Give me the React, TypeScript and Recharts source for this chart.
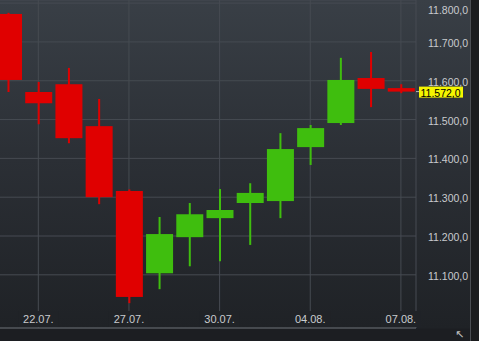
import React from 'react';
import { Bar, CartesianGrid, ComposedChart, ReferenceLine, XAxis, YAxis } from 'recharts';

const dates = ['21.07.', '22.07.', '23.07.', '24.07.', '27.07.', '28.07.', '29.07.', '30.07.', '31.07.', '03.08.', '04.08.', '05.08.', '06.08.', '07.08.'];
const opens = [11772, 11571, 11591, 11483, 11316, 11104, 11197, 11246, 11285, 11290, 11429, 11491, 11607, 11581];
const highs = [11775, 11597, 11633, 11553, 11320, 11249, 11285, 11321, 11336, 11465, 11486, 11659, 11674, 11591];
const lows = [11571, 11488, 11439, 11282, 11027, 11063, 11122, 11135, 11177, 11246, 11383, 11486, 11532, 11568];
const closes = [11602, 11542, 11452, 11300, 11043, 11205, 11256, 11267, 11311, 11424, 11478, 11602, 11579, 11572];

const dateTicks = ['22.07.', '27.07.', '30.07.', '04.08.', '07.08.'];
const priceTicks = [11100, 11200, 11300, 11400, 11500, 11600, 11700, 11800];
const lastPrice = 11572;

const UP = '#3fbe0e';
const DOWN = '#e00000';
const TEXT = '#c9cbce';
const FONT = '"Liberation Sans", Arial, sans-serif';

const data = dates.map((d, i) => ({
    date: d,
    open: opens[i],
    high: highs[i],
    low: lows[i],
    close: closes[i],
    range: [lows[i], highs[i]],
}));

// 11572 -> "11.572,0"
const fmt = (v: number) => {
    const [int, dec] = v.toFixed(1).split('.');
    return int.replace(/\B(?=(\d{3})+(?!\d))/g, '.') + ',' + dec;
};

const Candle = (props: any) => {
    const { x, y, width, height, payload } = props;
    const { open, close, high, low } = payload;
    const ratio = height / (high - low || 1);
    const py = (v: number) => y + (high - v) * ratio;
    const color = close >= open ? UP : DOWN;
    const top = py(Math.max(open, close));
    const bottom = py(Math.min(open, close));
    const cx = x + width / 2;
    return (
        <g>
            <rect x={cx - 1} y={y} width={2} height={height} fill={color} />
            <rect x={x} y={top} width={width} height={Math.max(bottom - top, 2)} fill={color} />
        </g>
    );
};

const YTick = ({ x, y, payload }: any) => (
    <text x={x + 12} y={y + 1} fill={TEXT} fontSize={10.5} fontFamily={FONT} dominantBaseline="central" textAnchor="start">
        {fmt(payload.value)}
    </text>
);

const XTick = ({ x, y, payload }: any) => (
    <g>
        <rect x={x - 20} y={y - 19} width={40} height={16} fill="#202327" />
        <text x={x} y={y - 11} fill={TEXT} fontSize={11} fontFamily={FONT} dominantBaseline="central" textAnchor="middle">
            {payload.value}
        </text>
    </g>
);

const PriceTag = ({ viewBox }: any) => {
    if (!viewBox) return null;
    const x = viewBox.x + viewBox.width;
    const y = viewBox.y;
    return (
        <g>
            <rect x={x} y={y - 0.5} width={3} height={1} fill="#bbbbbb" />
            <rect x={x + 3} y={y - 5} width={44} height={11} fill="#f5f500" />
            <text x={x + 4.5} y={y + 1} fill="#000" fontSize={10.5} fontFamily={FONT} dominantBaseline="central">
                {fmt(lastPrice)}
            </text>
        </g>
    );
};

export default function App() {
    return (
        <div style={{ position: 'absolute', left: 0, top: 0, width: 479, height: 341, background: '#1a1b1d', overflow: 'hidden' }}>
            <div
                style={{
                    position: 'absolute', left: 0, top: 0, width: 470, height: 341, overflow: 'hidden',
                    background: 'linear-gradient(#393f46 0px, #2b2f35 160px, #1f2226 328px, #1c1e22 329px, #1c1e22 341px)',
                    borderRight: '1px solid #4a4d52',
                }}
            >
                <div style={{ position: 'absolute', left: -7, top: 0 }}>
                    <ComposedChart width={477} height={341} data={data} margin={{ top: 0, right: 0, left: 0, bottom: 0 }}>
                        <CartesianGrid stroke="#464b52" strokeWidth={1} />
                        <XAxis
                            dataKey="date"
                            ticks={dateTicks}
                            interval={0}
                            height={13}
                            tickLine={false}
                            tickSize={0}
                            axisLine={{ stroke: '#5a5e63' }}
                            tick={<XTick />}
                        />
                        <YAxis
                            orientation="right"
                            width={54}
                            domain={[10963, 11808]}
                            allowDataOverflow
                            ticks={priceTicks}
                            tickSize={0}
                            tickMargin={0}
                            tickLine={false}
                            axisLine={false}
                            tick={<YTick />}
                        />
                        <Bar dataKey="range" barSize={27} shape={<Candle />} isAnimationActive={false} />
                        <ReferenceLine y={lastPrice} stroke="none" strokeOpacity={0} ifOverflow="visible" label={<PriceTag />} />
                    </ComposedChart>
                </div>
            </div>
            <div style={{ position: 'absolute', left: 455, top: 329, fontSize: 11, color: '#c0c0c0', fontFamily: '"DejaVu Sans"', lineHeight: '12px' }}>
                ↖
            </div>
        </div>
    );
}
